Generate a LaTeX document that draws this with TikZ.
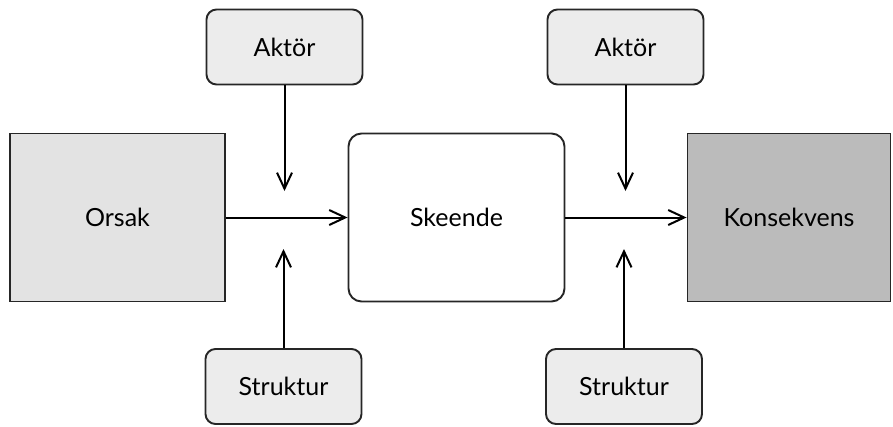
\documentclass[tikz,border=0pt]{standalone}
\usepackage{fontspec}
\setmainfont{Lato}
\usetikzlibrary{arrows.meta}
\definecolor{lightgray1}{HTML}{E3E3E3}
\definecolor{boxgray}{HTML}{ECECEC}
\definecolor{darkgray1}{HTML}{BBBBBB}
\begin{document}
\begin{tikzpicture}[x=1pt,y=-1pt,
  every node/.style={font=\fontsize{25}{28}\selectfont, line width=1.9pt, draw=black!85, inner sep=0pt},
  bigbox/.style={minimum width=#1, minimum height=168pt},
  smallbox/.style={rounded corners=10pt, fill=boxgray, minimum width=156pt, minimum height=75pt},
  arr/.style={line width=2pt, -{Straight Barb[length=16pt,width=15pt,line width=2pt]}}
]
\useasboundingbox (0,0) rectangle (893,426);
\node[bigbox=215pt, fill=lightgray1] (orsak) at (117.5,217.5) {Orsak};
\node[bigbox=216pt, rounded corners=13pt, fill=white] (skeende) at (456.5,217.5) {Skeende};
\node[bigbox=203pt, fill=darkgray1] (kons) at (789,217.5) {Konsekvens};
\node[smallbox] (aktor1) at (284.5,47) {Aktör};
\node[smallbox] (aktor2) at (625.5,47) {Aktör};
\node[smallbox] (strukt1) at (283.5,386.5) {Struktur};
\node[smallbox] (strukt2) at (624,386.5) {Struktur};
\coordinate (t1) at (aktor1.south |- 0,191);
\coordinate (t2) at (aktor2.south |- 0,191);
\coordinate (b1) at (strukt1.north |- 0,249);
\coordinate (b2) at (strukt2.north |- 0,249);
\draw[arr] (orsak.east) -- (skeende.west);
\draw[arr] (skeende.east) -- (kons.west);
\draw[arr] (aktor1.south) -- (t1);
\draw[arr] (aktor2.south) -- (t2);
\draw[arr] (strukt1.north) -- (b1);
\draw[arr] (strukt2.north) -- (b2);
\end{tikzpicture}
\end{document}
